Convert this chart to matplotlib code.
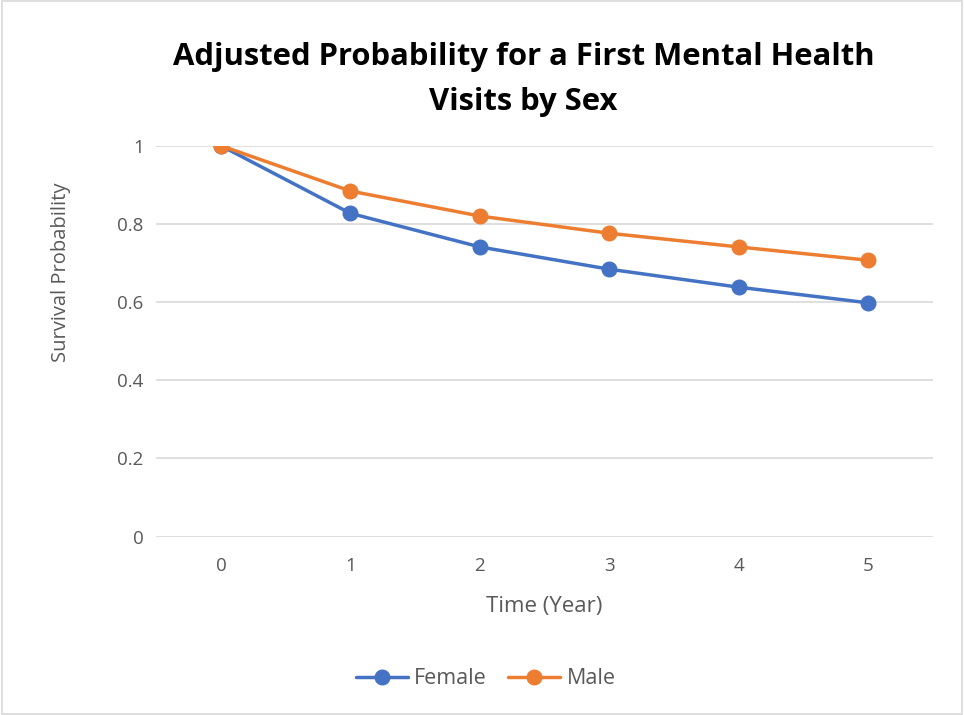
import matplotlib
matplotlib.use("Agg")
import matplotlib.pyplot as plt
from matplotlib.patches import Rectangle

# Survival curves by sex
years = [0, 1, 2, 3, 4, 5]
female = [1.0, 0.827, 0.741, 0.684, 0.638, 0.598]
male = [1.0, 0.884, 0.820, 0.776, 0.741, 0.707]
y_ticks = [0, 0.2, 0.4, 0.6, 0.8, 1]
y_tick_labels = ["0", "0.2", "0.4", "0.6", "0.8", "1"]

BLUE = "#4472C4"
ORANGE = "#ED7D31"
GRID = "#D9D9D9"
TEXT = "#595959"

plt.rcParams["font.family"] = ["Open Sans", "DejaVu Sans"]

fig = plt.figure(figsize=(9.64, 7.15), dpi=100)
ax = fig.add_axes([0.162, 0.2495, 0.806, 0.5467])

# chart border
fig.patches.append(Rectangle((0.002, 0.002), 0.996, 0.996, transform=fig.transFigure,
                             fill=False, edgecolor=GRID, linewidth=1.2))

ax.plot(years, female, color=BLUE, linewidth=2.5, marker="o", markersize=10.5,
        label="Female", solid_capstyle="round", zorder=3)
ax.plot(years, male, color=ORANGE, linewidth=2.5, marker="o", markersize=10.5,
        label="Male", solid_capstyle="round", zorder=3)

ax.set_xlim(-0.5, 5.5)
ax.set_ylim(0, 1)
ax.set_xticks(years)
ax.set_yticks(y_ticks)
ax.set_yticklabels(y_tick_labels)
ax.tick_params(axis="both", length=0, labelsize=13.5, labelcolor=TEXT)
ax.tick_params(axis="x", pad=15)
ax.tick_params(axis="y", pad=9)
ax.grid(axis="y", color=GRID, linewidth=1.2)
ax.set_axisbelow(True)
for side in ax.spines.values():
    side.set_visible(False)

ax.set_xlabel("Time (Year)", fontsize=16, color=TEXT, labelpad=15)
fig.text(0.063, 1 - 272 / 715, "Survival Probability", rotation=90, fontsize=14.5,
         color=TEXT, ha="center", va="center")

fig.text(0.543, 1 - 57 / 715, "Adjusted Probability for a First Mental Health",
         fontsize=22.3, fontweight="bold", ha="center", va="center", color="black")
fig.text(0.543, 1 - 102 / 715, "Visits by Sex",
         fontsize=22.3, fontweight="bold", ha="center", va="center", color="black")

fig.legend(loc="center", bbox_to_anchor=(0.504, 1 - 679 / 715), ncol=2, frameon=False,
           fontsize=15.5, labelcolor=TEXT, handlelength=2.4, handletextpad=0.3,
           columnspacing=1.0)

fig.savefig("out.png", dpi=100)
